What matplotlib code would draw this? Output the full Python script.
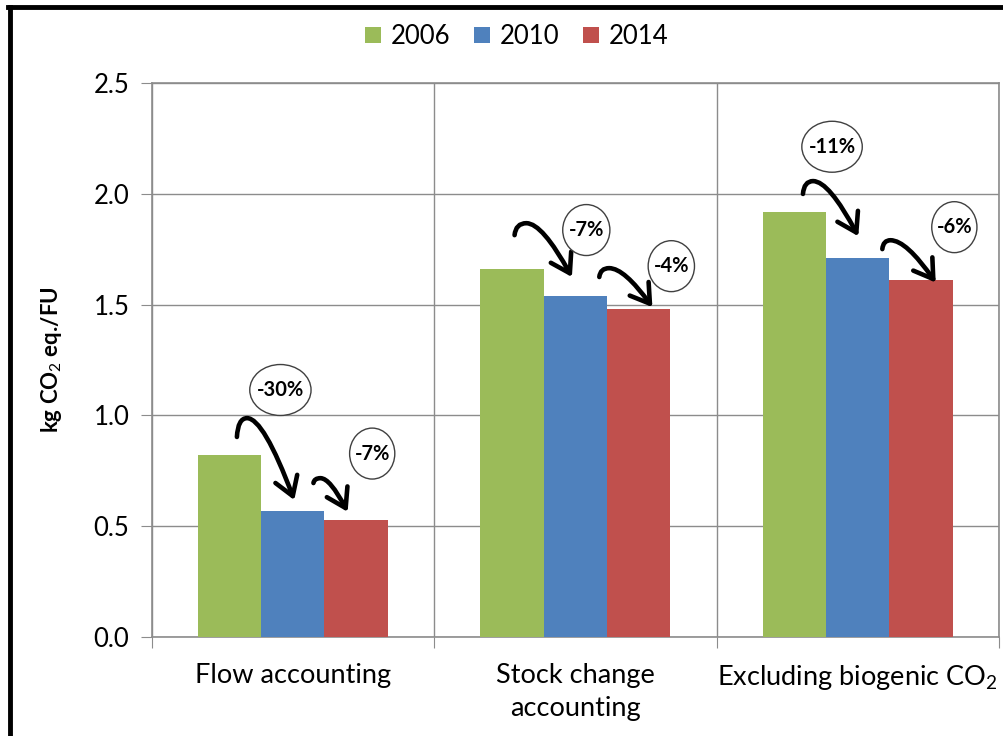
import matplotlib

matplotlib.use("Agg")
import matplotlib.pyplot as plt
from matplotlib.lines import Line2D
from matplotlib.patches import Ellipse, FancyArrowPatch
from matplotlib.path import Path

plt.rcParams["font.family"] = ["Lato", "DejaVu Sans"]
plt.rcParams["mathtext.fontset"] = "custom"
plt.rcParams["mathtext.rm"] = "Lato"
plt.rcParams["mathtext.bf"] = "Lato:bold"

categories = ["Flow accounting", "Stock change\naccounting", "Excluding biogenic CO$_2$"]
years = ["2006", "2010", "2014"]
values_2006 = [0.82, 1.66, 1.92]
values_2010 = [0.57, 1.54, 1.71]
values_2014 = [0.53, 1.48, 1.61]
changes_first = ["-30%", "-7%", "-11%"]
changes_second = ["-7%", "-4%", "-6%"]
colors = ["#9BBB59", "#4F81BD", "#C0504D"]

# annotation layout: offsets from category centre (x) and values (y)
arrow_first = [  # start, peak, end
    ((-0.198, 0.903), (-0.162, 0.988), (0.005, 0.618)),
    ((-0.215, 1.814), (-0.173, 1.868), (-0.012, 1.625)),
    ((-0.194, 2.000), (-0.158, 2.058), (0.002, 1.809)),
]
arrow_second = [
    ((0.073, 0.695), (0.098, 0.717), (0.194, 0.565)),
    ((0.085, 1.625), (0.120, 1.665), (0.273, 1.489)),
    ((0.087, 1.751), (0.116, 1.791), (0.276, 1.600)),
]
bubble_first = [((-0.044, 1.115), 0.217), ((0.039, 1.837), 0.167), ((-0.091, 2.213), 0.214)]
bubble_second = [((0.281, 0.828), 0.160), ((0.340, 1.674), 0.164), ((0.342, 1.850), 0.160)]
BUBBLE_H = 0.23
BAR_W = 0.224
GRID = "#8c8c8c"


def hook_arrow(ax, cx, start, peak, end):
    (x0, y0), (xp, yp), (x1, y1) = start, peak, end
    x0, xp, x1 = x0 + cx, xp + cx, x1 + cx
    verts = [
        (x0, y0),
        (x0 + 0.1 * (xp - x0), yp),
        (xp, yp),
        (xp + 0.35 * (x1 - xp), yp),
        (x1, y1),
    ]
    codes = [Path.MOVETO, Path.CURVE3, Path.CURVE3, Path.CURVE3, Path.CURVE3]
    arrow = FancyArrowPatch(
        path=Path(verts, codes),
        arrowstyle="->,head_length=0.6,head_width=0.38",
        mutation_scale=22,
        lw=3.3,
        color="black",
        zorder=5,
        capstyle="round",
        joinstyle="round",
    )
    ax.add_patch(arrow)


def bubble(ax, cx, centre, width, text):
    x, y = centre
    ax.add_patch(
        Ellipse((cx + x, y), width, BUBBLE_H, facecolor="white",
                edgecolor="#404040", lw=1.0, zorder=6)
    )
    ax.text(cx + x, y, text, ha="center", va="center", fontsize=14.5,
            fontweight="bold", zorder=7)


fig = plt.figure(figsize=(10.04, 7.36), dpi=100)
ax = fig.add_axes([0.151, 0.1345, 0.844, 0.7525])

series = [values_2006, values_2010, values_2014]
for i, (vals, year, color) in enumerate(zip(series, years, colors)):
    xs = [c + (i - 1) * BAR_W for c in range(len(categories))]
    ax.bar(xs, vals, BAR_W, color=color, label=year, zorder=3)

for c in range(len(categories)):
    hook_arrow(ax, c, *arrow_first[c])
    hook_arrow(ax, c, *arrow_second[c])
    bubble(ax, c, bubble_first[c][0], bubble_first[c][1], changes_first[c])
    bubble(ax, c, bubble_second[c][0], bubble_second[c][1], changes_second[c])

ax.set_xlim(-0.5, len(categories) - 0.5)
ax.set_ylim(0, 2.5)
ax.set_yticks([0, 0.5, 1.0, 1.5, 2.0, 2.5])
ax.set_yticklabels([f"{v:.1f}" for v in [0, 0.5, 1.0, 1.5, 2.0, 2.5]])
ax.set_xticks([c - 0.5 for c in range(len(categories) + 1)])
ax.set_xticklabels([])
ax.set_xticks(range(len(categories)), minor=True)
ax.set_xticklabels(categories, minor=True, fontsize=19.5, linespacing=1.4)
ax.tick_params(axis="x", which="minor", length=0, pad=19)
ax.tick_params(axis="x", which="major", length=8, color=GRID, direction="out")
ax.tick_params(axis="y", length=8, color=GRID, labelsize=18.5, pad=8)
ax.grid(True, color=GRID, lw=1.0, zorder=0)
ax.set_axisbelow(True)
for spine in ax.spines.values():
    spine.set_color(GRID)
    spine.set_linewidth(1.2)
ax.set_ylabel("kg CO$_2$ eq./FU", fontsize=16, fontweight="bold")
ax.yaxis.set_label_coords(-0.118, 0.5)
ax.yaxis.label.set_verticalalignment("center")

ax.legend(loc="center", bbox_to_anchor=(0.431, 1.084), ncol=3, frameon=False,
          fontsize=18.5, handlelength=0.62, handleheight=0.62, handletextpad=0.4,
          columnspacing=0.9, borderpad=0, borderaxespad=0)

fig.add_artist(Line2D([0.0095, 0.0095], [0, 0.991], color="black", lw=3.5))
fig.add_artist(Line2D([0.0075, 1.0], [0.991, 0.991], color="black", lw=3.5))

fig.savefig("out.png", dpi=100)
